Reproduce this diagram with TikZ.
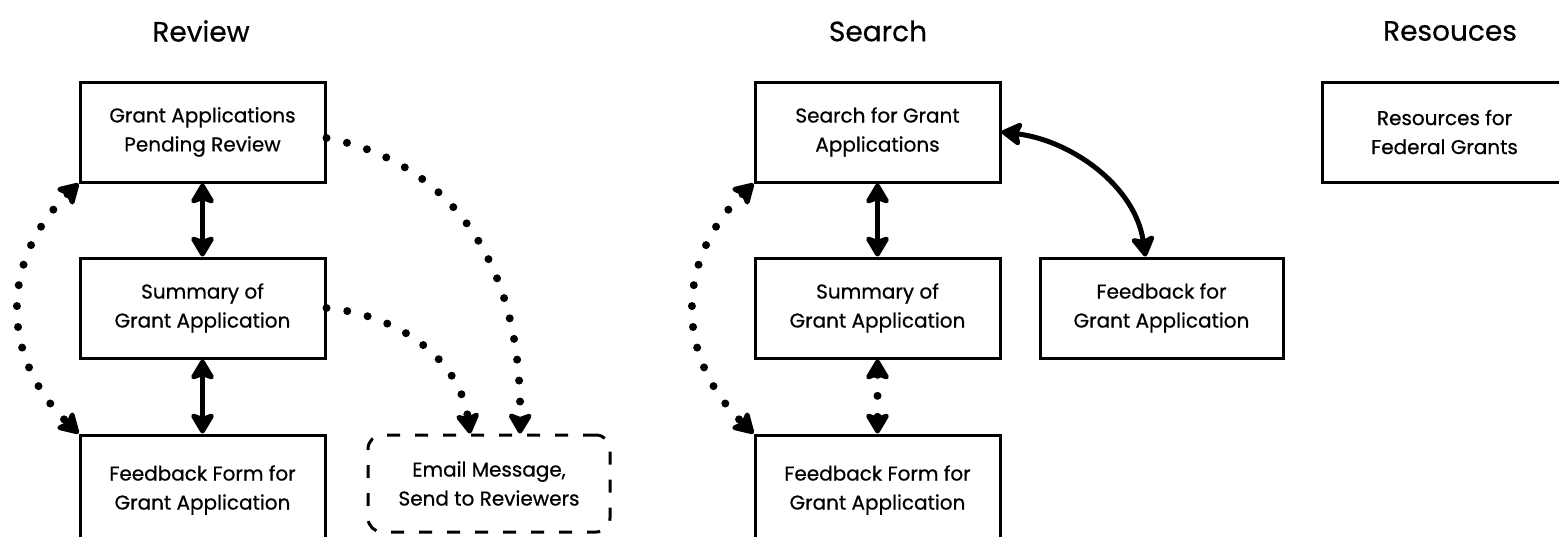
\documentclass[tikz,border=0pt]{standalone}
\usepackage{fontspec}
\setmainfont{Poppins}[FakeBold=0.6]
\usetikzlibrary{arrows.meta}

\tikzset{
  screen/.style={draw, line width=3pt, minimum width=245pt, minimum height=100pt,
    align=center, font=\fontsize{20}{29}\selectfont, inner sep=0pt},
  emailbox/.style={screen, dash pattern=on 13pt off 15pt, rounded corners=14pt},
  heading/.style={font=\fontsize{28}{32}\selectfont},
  head/.tip={Stealth[length=24pt,width=28pt,inset=5pt,round]},
  link/.style={line width=5pt, head-head},
  dotlink/.style={line width=8pt, line cap=round, dash pattern=on 0pt off 21pt},
}

\begin{document}
\begin{tikzpicture}[x=1pt,y=-1pt]
\useasboundingbox (0,0) rectangle (1559,536);

% column headings
\node[heading] (hrev) at (201,31) {Review};
\node[heading] (hsea) at (878,31) {Search};
\node[heading] (hres) at (1450,31) {Resouces};

% Review column
\node[screen] (rev1) at (202.5,132) {Grant Applications\\Pending Review};
\node[screen] (rev2) at (202.5,308) {Summary of\\Grant Application};
\node[screen, minimum height=110pt] (rev3) at (202.5,490) {Feedback Form for\\Grant Application};
\node[emailbox, minimum width=242pt, minimum height=97pt] (mail) at (489,483.5) {Email Message,\\Send to Reviewers};

% Search column
\node[screen] (sea1) at (877.5,132) {Search for Grant\\Applications};
\node[screen] (sea2) at (877.5,308) {Summary of\\Grant Application};
\node[screen, minimum height=110pt] (sea3) at (877.5,490) {Feedback Form for\\Grant Application};
\node[screen, minimum width=243pt] (fbk) at (1161.5,308) {Feedback for\\Grant Application};

% Resources column
\node[screen] (res1) at (1444.5,132) {Resources for\\Federal Grants};

% Review connectors
\draw[link] (rev1.south) -- (rev2.north);
\draw[link] (rev2.south) -- (rev3.north);
\draw[dotlink, head-head]
  (rev1.south west) .. controls (0,260) and (0,357) .. (rev3.north west);
\coordinate (mailA) at ([xshift=-19pt]mail.north);
\coordinate (mailB) at ([xshift=31pt]mail.north);
\draw[dotlink, -head]
  ([yshift=-6pt]rev1.east) .. controls (440,160) and (522,250) .. (mailB);
\draw[dotlink, -head]
  (rev2.east) .. controls (400,315) and (460,360) .. (mailA);

% Search connectors
\draw[link] (sea1.south) -- (sea2.north);
\draw[dotlink, head-head] (sea2.south) -- (sea3.north);
\draw[dotlink, head-head]
  (sea1.south west) .. controls (675,260) and (675,357) .. (sea3.north west);
\coordinate (fbkA) at ([xshift=-16pt]fbk.north);
\draw[link] (sea1.east) .. controls (1070,140) and (1135,185) .. (fbkA);
\end{tikzpicture}
\end{document}
